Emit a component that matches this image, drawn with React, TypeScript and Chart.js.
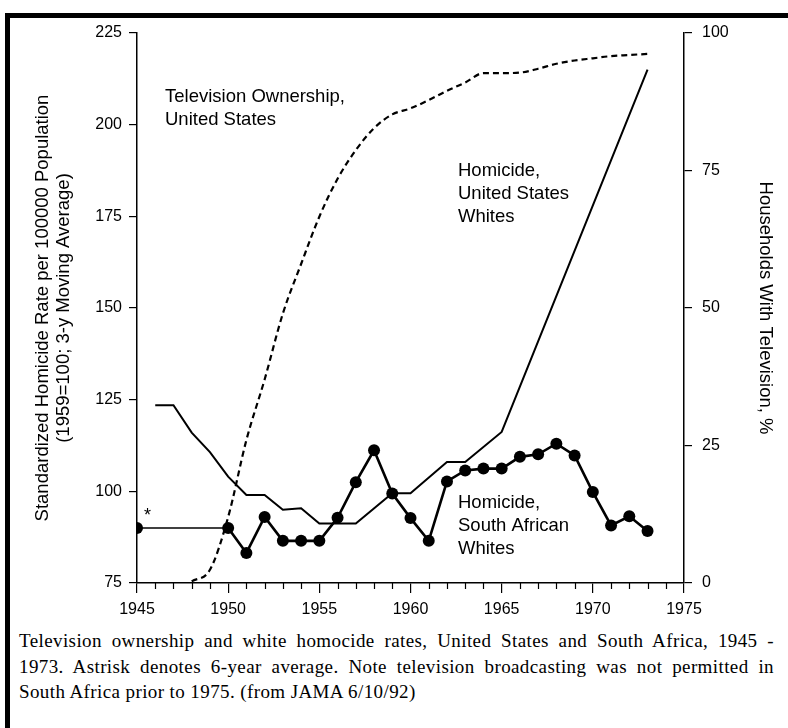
import React, { useEffect, useRef } from 'react';
import { Chart, registerables } from 'chart.js';

Chart.register(...registerables);

// ---- data ----
const saYears = [1945, 1950, 1951, 1952, 1953, 1954, 1955, 1956, 1957, 1958, 1959, 1960, 1961, 1962, 1963, 1964, 1965, 1966, 1967, 1968, 1969, 1970, 1971, 1972, 1973];
const saValues = [90, 90, 83.2, 93, 86.5, 86.5, 86.5, 92.8, 102.5, 111.2, 99.4, 92.7, 86.5, 102.7, 105.7, 106.2, 106.2, 109.4, 110.1, 113, 109.8, 99.8, 90.7, 93.2, 89.2];

const usYears = [1946, 1947, 1948, 1949, 1950, 1951, 1952, 1953, 1954, 1955, 1957, 1959, 1960, 1962, 1963, 1965, 1973];
const usValues = [123.5, 123.5, 116, 110.7, 104, 99, 99, 95, 95.4, 91.2, 91.2, 99.5, 99.5, 108, 108, 116.2, 215];

const tvYears = [1948, 1949, 1950, 1951, 1952, 1953, 1954, 1955, 1956, 1957, 1958, 1959, 1960, 1961, 1962, 1963, 1964, 1965, 1966, 1967, 1968, 1969, 1970, 1971, 1972, 1973];
const tvValues = [0.3, 2.4, 12, 26, 37, 49, 58, 66.6, 73.5, 78.7, 82.7, 85.2, 86.3, 87.8, 89.5, 91, 92.7, 92.7, 92.8, 93.5, 94.4, 95, 95.4, 95.8, 96, 96.2];

const xMin = 1945;
const xMax = 1975;
const leftMin = 75;
const leftMax = 225;
const rightMin = 0;
const rightMax = 100;

const leftTitle = ['Standardized Homicide Rate per 100000 Population', '(1959=100; 3-y Moving Average)'];
const rightTitle = 'Households With Television, %';

const captionLines = [
  'Television ownership and white homocide rates, United States and South Africa, 1945 -',
  '1973. Astrisk denotes 6-year average. Note television broadcasting was not permitted in',
  'South Africa prior to 1975. (from JAMA 6/10/92)',
];

const SANS = '"Liberation Sans", Arial, Helvetica, sans-serif';
const SERIF = '"Liberation Serif", "Times New Roman", serif';

const annotations = [
  { lines: ['Television Ownership,', 'United States'], x: 165, y: 97 },
  { lines: ['Homicide,', 'United States', 'Whites'], x: 458, y: 171 },
  { lines: ['Homicide,', 'South African', 'Whites'], x: 458, y: 503 },
];

const annotPlugin = {
  id: 'annot',
  afterDraw(chart: any) {
    const ctx = chart.ctx;
    const xs = chart.scales.x;
    const area = chart.chartArea;
    ctx.save();
    // minor ticks on x axis
    ctx.strokeStyle = '#000';
    ctx.lineWidth = 1.2;
    for (let yr = xMin; yr <= xMax; yr++) {
      if (yr % 5 === 0) continue;
      const px = Math.round(xs.getPixelForValue(yr)) + 0.5;
      ctx.beginPath();
      ctx.moveTo(px, area.bottom);
      ctx.lineTo(px, area.bottom + 6);
      ctx.stroke();
    }
    // labels
    ctx.fillStyle = '#000';
    ctx.font = `18.5px ${SANS}`;
    ctx.textBaseline = 'middle';
    ctx.textAlign = 'left';
    for (const a of annotations) {
      a.lines.forEach((t, i) => ctx.fillText(t, a.x, a.y + i * 23));
    }
    ctx.font = `18px ${SANS}`;
    ctx.fillText('*', 144, 516);
    ctx.restore();
  },
};

export default function App() {
  const ref = useRef<HTMLCanvasElement>(null);
  useEffect(() => {
    const tickFont = { family: SANS, size: 16 };
    const titleFont = { family: SANS, size: 18.5, lineHeight: 1.15 };
    const chart = new Chart(ref.current as HTMLCanvasElement, {
      type: 'line',
      data: {
        datasets: [
          {
            label: 'Television Ownership, United States',
            data: tvYears.map((x, i) => ({ x, y: tvValues[i] })),
            yAxisID: 'y2',
            borderColor: '#000',
            borderWidth: 2.2,
            borderDash: [6, 4],
            pointRadius: 0,
            cubicInterpolationMode: 'monotone',
            fill: false,
          },
          {
            label: 'Homicide, United States Whites',
            data: usYears.map((x, i) => ({ x, y: usValues[i] })),
            yAxisID: 'y',
            borderColor: '#000',
            borderWidth: 2,
            pointRadius: 0,
            tension: 0,
            fill: false,
          },
          {
            label: 'Homicide, South African Whites',
            data: saYears.map((x, i) => ({ x, y: saValues[i] })),
            yAxisID: 'y',
            borderColor: '#000',
            borderWidth: 2.6,
            pointRadius: 6,
            pointBackgroundColor: '#000',
            pointBorderColor: '#000',
            pointBorderWidth: 0,
            tension: 0,
            fill: false,
            segment: {
              borderWidth: (c: any) => (c.p0DataIndex === 0 ? 1.3 : 2.6),
            },
          },
        ] as any,
      },
      options: {
        animation: false,
        responsive: false,
        layout: { padding: { top: 33, left: 0, right: 0, bottom: 0 } },
        plugins: { legend: { display: false }, tooltip: { enabled: false } },
        scales: {
          x: {
            type: 'linear',
            min: xMin,
            max: xMax,
            position: 'bottom',
            ticks: {
              stepSize: 5,
              color: '#000',
              font: tickFont,
              padding: 7,
              callback: (v: any) => String(v),
            },
            grid: { drawOnChartArea: false, drawTicks: true, tickLength: 10, color: '#000', lineWidth: 1.2 },
            border: { display: true, color: '#000', width: 1.5 },
            afterFit: (s: any) => { s.height = 42; },
          },
          y: {
            type: 'linear',
            position: 'left',
            min: leftMin,
            max: leftMax,
            ticks: { stepSize: 25, color: '#000', font: tickFont, padding: 7 },
            grid: { drawOnChartArea: false, drawTicks: true, tickLength: 8, color: '#000', lineWidth: 1.2 },
            border: { display: true, color: '#000', width: 1.5 },
            title: { display: true, text: leftTitle, color: '#000', font: titleFont, padding: { top: 32, bottom: 0 } },
            afterFit: (s: any) => { s.width = 137; },
          },
          y2: {
            type: 'linear',
            position: 'right',
            min: rightMin,
            max: rightMax,
            ticks: { stepSize: 25, color: '#000', font: tickFont, padding: 10 },
            grid: { drawOnChartArea: false, drawTicks: true, tickLength: 8, color: '#000', lineWidth: 1.2 },
            border: { display: true, color: '#000', width: 1.5 },
            title: { display: true, text: rightTitle, color: '#000', font: titleFont, padding: { top: 12, bottom: 0 } },
            afterFit: (s: any) => { s.width = 104; },
          },
        },
      } as any,
      plugins: [annotPlugin],
    });
    return () => chart.destroy();
  }, []);

  return (
    <div style={{ position: 'absolute', left: 0, top: 0, width: 788, height: 728, background: '#fff', overflow: 'hidden' }}>
      <canvas ref={ref} width={788} height={625} style={{ position: 'absolute', left: 0, top: 0, width: 788, height: 625 }} />
      <div style={{ position: 'absolute', left: 5, top: 13, width: 783, height: 5, background: '#000' }} />
      <div style={{ position: 'absolute', left: 5, top: 13, width: 5, height: 715, background: '#000' }} />
      <div style={{ position: 'absolute', left: 19, top: 628, width: 755, fontFamily: SERIF, fontSize: 19, letterSpacing: '0.4px', lineHeight: '25.5px', color: '#000' }}>
        {captionLines.map((t, i) => (
          <div key={i} style={{ whiteSpace: 'nowrap', textAlign: 'justify', textAlignLast: i < captionLines.length - 1 ? 'justify' : 'left' }}>{t}</div>
        ))}
      </div>
    </div>
  );
}
